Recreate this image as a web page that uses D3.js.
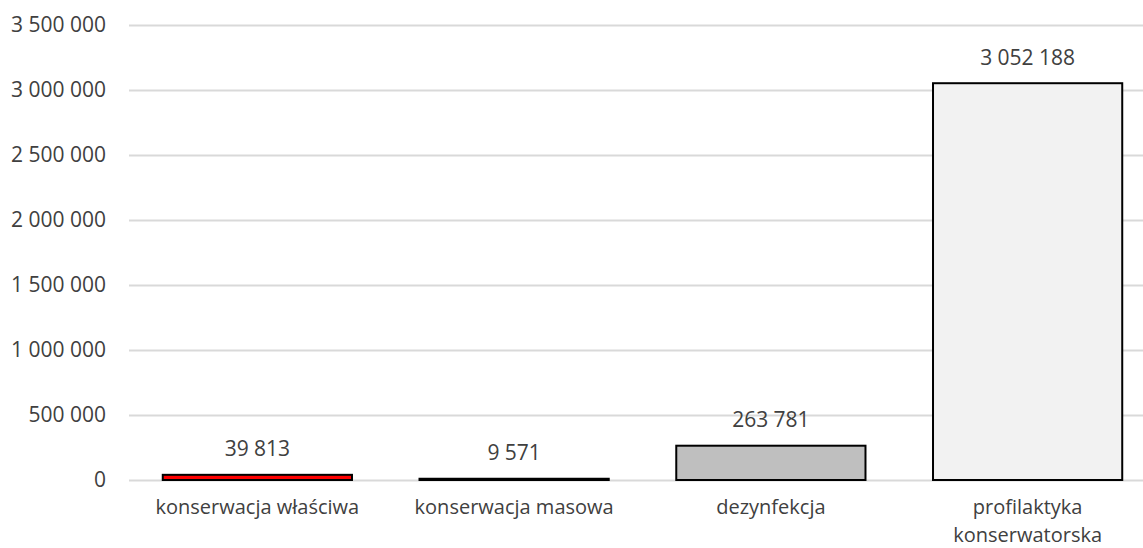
<!DOCTYPE html>
<html lang="pl">
<head>
<meta charset="utf-8">
<title>Konserwacja</title>
<script src="https://cdn.jsdelivr.net/npm/d3@7"></script>
<style>
    body { margin: 0; background: #fff; }
    svg { display: block; font-family: "Open Sans", sans-serif; }
    .tick text, .label { fill: #404040; font-size: 21px; }
    .cat { fill: #404040; font-size: 20px; }
</style>
</head>
<body>
<div id="chart"></div>
<script>
// data
var categories = ["konserwacja właściwa", "konserwacja masowa", "dezynfekcja", "profilaktyka konserwatorska"];
var values = [39813, 9571, 263781, 3052188];
var yTicks = [0, 500000, 1000000, 1500000, 2000000, 2500000, 3000000, 3500000];

var width = 1143, height = 548;
var plot = { left: 129, right: 1156, top: 25, bottom: 480 };

var fmt = d3.formatLocale({ decimal: ",", thousands: " ", grouping: [3], currency: ["", ""] }).format(",d");

var svg = d3.select("#chart").append("svg")
    .attr("width", width)
    .attr("height", height);

var x = d3.scaleBand()
    .domain(categories)
    .range([plot.left, plot.right])
    .paddingInner(0.263)
    .paddingOuter(0.1315);

var y = d3.scaleLinear()
    .domain([0, 3500000])
    .range([plot.bottom, plot.top]);

var fill = d3.scaleOrdinal()
    .domain(categories)
    .range(["#ff0000", "#ffffff", "#bfbfbf", "#f2f2f2"]);

// gridlines + y labels
var yAxis = svg.append("g")
    .attr("transform", "translate(" + plot.left + ",0)")
    .call(d3.axisLeft(y).tickValues(yTicks).tickFormat(fmt)
        .tickSize(-(plot.right - plot.left)).tickPadding(23));
yAxis.select(".domain").remove();
yAxis.selectAll(".tick line").attr("stroke", "#d9d9d9").attr("stroke-width", 2);
yAxis.selectAll(".tick text").attr("font-family", "Open Sans").style("font-size", "21px");

// bars
svg.append("g").selectAll("rect")
    .data(values)
    .join("rect")
    .attr("x", function(d, i) { return x(categories[i]); })
    .attr("y", function(d) { return y(d); })
    .attr("width", x.bandwidth())
    .attr("height", function(d) { return y(0) - y(d); })
    .attr("fill", function(d, i) { return fill(categories[i]); })
    .attr("stroke", "#000")
    .attr("stroke-width", 2);

// value labels
svg.append("g").selectAll("text")
    .data(values)
    .join("text")
    .attr("class", "label")
    .attr("text-anchor", "middle")
    .attr("x", function(d, i) { return x(categories[i]) + x.bandwidth() / 2; })
    .attr("y", function(d) { return y(d) - 18.5; })
    .text(function(d) { return fmt(d); });

// category labels, wrapped to the band
var cats = svg.append("g").selectAll("text")
    .data(categories)
    .join("text")
    .attr("class", "cat")
    .attr("text-anchor", "middle")
    .attr("x", function(d) { return x(d) + x.bandwidth() / 2; })
    .attr("y", 514);

cats.each(function(d) {
    var t = d3.select(this);
    var cx = x(d) + x.bandwidth() / 2;
    var words = d.split(" ");
    var line = [];
    var tspan = t.append("tspan").attr("x", cx).attr("dy", 0);
    words.forEach(function(w) {
        line.push(w);
        tspan.text(line.join(" "));
        if (tspan.node().getComputedTextLength() > x.step() - 20 && line.length > 1) {
            line.pop();
            tspan.text(line.join(" "));
            line = [w];
            tspan = t.append("tspan").attr("x", cx).attr("dy", 27.5).text(w);
        }
    });
});
</script>
</body>
</html>
